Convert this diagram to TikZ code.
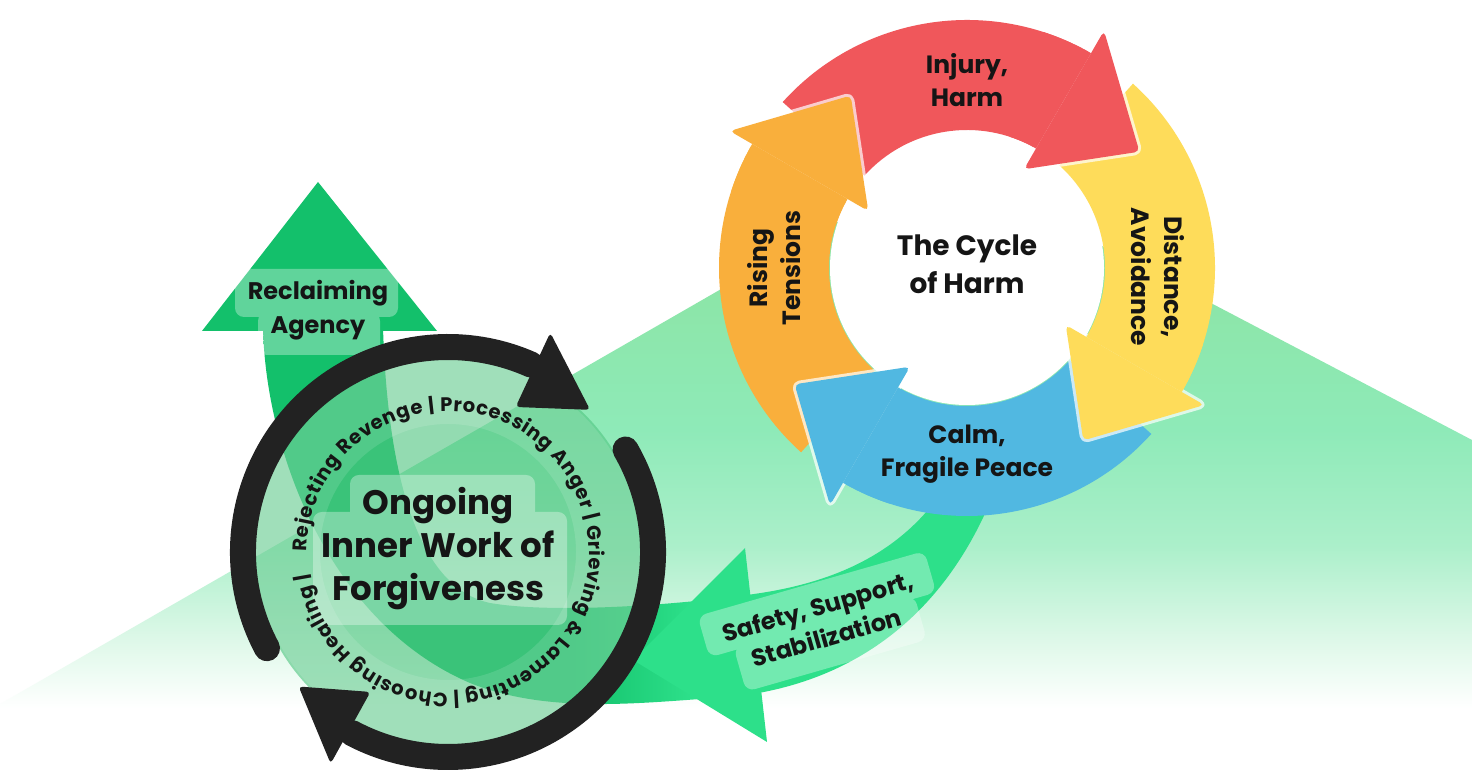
\documentclass[tikz,border=0pt]{standalone}
\usepackage{fontspec}
\setmainfont{Poppins}
\usepackage{tikz}
\usetikzlibrary{calc, decorations.text}

\definecolor{harmred}{HTML}{F0575B}
\definecolor{harmyellow}{HTML}{FEDC5A}
\definecolor{harmblue}{HTML}{51B8E1}
\definecolor{harmorange}{HTML}{F9AF3C}
\definecolor{deepgreen}{HTML}{13C06B}
\definecolor{brightgreen}{HTML}{2DE08A}
\definecolor{discgreen}{HTML}{52C682}
\definecolor{ringblack}{HTML}{222222}
\definecolor{inkblack}{HTML}{151515}
\definecolor{hillA}{HTML}{8CE5A6}
\definecolor{hillB}{HTML}{8EEAB8}
\definecolor{hillC}{HTML}{ABEFCA}
\definecolor{hillD}{HTML}{DDF8E8}

\pgfdeclareverticalshading{hill}{100bp}{color(0bp)=(white); color(28bp)=(white); color(34bp)=(hillD); color(42bp)=(hillC); color(52bp)=(hillB); color(65bp)=(hillA); color(100bp)=(hillA)}
\pgfdeclarehorizontalshading{swooshfade}{100bp}{color(0bp)=(deepgreen); color(46bp)=(deepgreen); color(54bp)=(brightgreen); color(100bp)=(brightgreen)}

% body of one arrow of the cycle: colour, angle of the head's base
\newcommand{\harmbody}[2]{%
  \pgfmathsetmacro\tailang{#2+78}
  \fill[#1] ($(harm)+(\tailang:248pt)$) arc[start angle=\tailang, end angle=#2, radius=248pt]
    -- ($(harm)+(#2:138pt)$) arc[start angle=#2, end angle=\tailang, radius=138pt] -- cycle;}
% head of one arrow, with its light rim
\newcommand{\harmhead}[2]{%
  \pgfmathsetmacro\tipang{#2-26}
  \pgfmathsetmacro\neckang{#2+12}
  \draw[white, draw opacity=.7, line width=6pt, line join=round, rounded corners=5pt]
    ($(harm)+(#2:274pt)$) -- ($(harm)+(\tipang:208pt)$) -- ($(harm)+(#2:114pt)$) -- cycle;
  \fill[#1] ($(harm)+(\neckang:248pt)$) arc[start angle=\neckang, end angle=#2, radius=248pt]
    -- ($(harm)+(#2:138pt)$) arc[start angle=#2, end angle=\neckang, radius=138pt] -- cycle;
  \fill[#1, rounded corners=5pt]
    ($(harm)+(#2:274pt)$) -- ($(harm)+(\tipang:208pt)$) -- ($(harm)+(#2:114pt)$) -- cycle;}

\begin{document}
\begin{tikzpicture}[
    x=1pt, y=1pt,
    lbl/.style={font=\fontsize{25}{33}\selectfont\bfseries, text=inkblack, align=center, inner sep=0pt},
    tag/.style={fill=white, fill opacity=.33, rounded corners=9pt},
    ringarc/.style={ringblack, line width=26pt, line cap=round},
]
    \useasboundingbox (0,0) rectangle (1472,783);
    \fill[white] (0,0) rectangle (1472,783);
    \coordinate (harm) at (967,515);
    \coordinate (forgive) at (448,231);

    % --- hill ---
    \shade[shading=hill] (0,79) -- (942,621) -- (1472,343) -- (1472,40) -- (0,40) -- cycle;

    % --- green swoosh ---
    \shade[shading=swooshfade] (263,455) .. controls (266,330) and (330,160) .. (470,100)
        .. controls (540,72) and (620,78) .. (700,84)
        .. controls (840,88) and (950,160) .. (1002,312) -- (955,312)
        .. controls (915,240) and (850,205) .. (767,191)
        .. controls (700,180) and (560,168) .. (490,180)
        .. controls (420,195) and (388,300) .. (383,455) -- cycle;
    \fill[brightgreen] (745,235) -- (633,123) -- (767,41) -- cycle;
    \fill[deepgreen] (318,601) -- (202,452) -- (437,452) -- cycle;

    \begin{scope}[shift={(822,161)}, rotate=16]
        \fill[tag] (-118,-3) rectangle (118,40) (-92,-46) rectangle (96,0);
        \node[lbl, font=\fontsize{24}{32}\selectfont\bfseries, transform shape] (safety) at (0,0) {Safety, Support,\\Stabilization};
    \end{scope}
    \fill[tag] (235,466) rectangle (398,514) (258,428) rectangle (380,471);
    \node[lbl, font=\fontsize{24}{34}\selectfont\bfseries] (reclaim) at (318,473) {Reclaiming\\Agency};

    % --- cycle of harm ---
    \harmbody{harmred}{60}
    \harmbody{harmyellow}{-30}
    \harmbody{harmblue}{-120}
    \harmbody{harmorange}{150}
    \fill[white] (harm) circle (137pt);
    \harmhead{harmred}{60}
    \harmhead{harmyellow}{-30}
    \harmhead{harmblue}{-120}
    \harmhead{harmorange}{150}

    \node[lbl] (injury) at (967,703) {Injury,\\Harm};
    \node[lbl, rotate=-90] (distance) at (1158,506) {Distance,\\Avoidance};
    \node[lbl] (calm) at (967,329) {Calm,\\Fragile Peace};
    \node[lbl, rotate=90] (rising) at (774,515) {Rising\\Tensions};
    \node[lbl, font=\fontsize{28}{38}\selectfont\bfseries] (cycletitle) at (967,519) {The Cycle\\of Harm};

    % --- inner work of forgiveness ---
    \fill[discgreen, opacity=.62] (forgive) circle (194pt);
    \fill[white, opacity=.12, even odd rule] (forgive) circle (192pt) (forgive) circle (128pt);
    \fill[tag] (350,263) rectangle (535,308) (313,158) rectangle (567,271);
    \path[decorate, decoration={text along path, text format delimiters={[}{]},
        text={[\fontsize{19.5}{22}\selectfont\bfseries]Rejecting Revenge | Processing Anger | Grieving {\&} Lamenting | Choosing Healing |},
        text align=fit to path, text color=inkblack}]
        ($(forgive)+(180:141pt)$) arc[start angle=180, end angle=-171, radius=141pt];
    \node[lbl, font=\fontsize{34}{43}\selectfont\bfseries] (ongoing) at (438,234) {Ongoing\\Inner Work of\\Forgiveness};

    \draw[ringarc] ($(forgive)+(208:205pt)$) arc[start angle=208, end angle=66, radius=205pt];
    \fill[ringblack, rounded corners=4pt] ($(forgive)+(65:242pt)$) -- ($(forgive)+(45:201pt)$) -- ($(forgive)+(65:160pt)$) -- cycle;
    \draw[ringarc] ($(forgive)+(30:205pt)$) arc[start angle=30, end angle=-118, radius=205pt];
    \fill[ringblack, rounded corners=4pt] ($(forgive)+(-119:242pt)$) -- ($(forgive)+(-138:201pt)$) -- ($(forgive)+(-119:160pt)$) -- cycle;
\end{tikzpicture}
\end{document}
